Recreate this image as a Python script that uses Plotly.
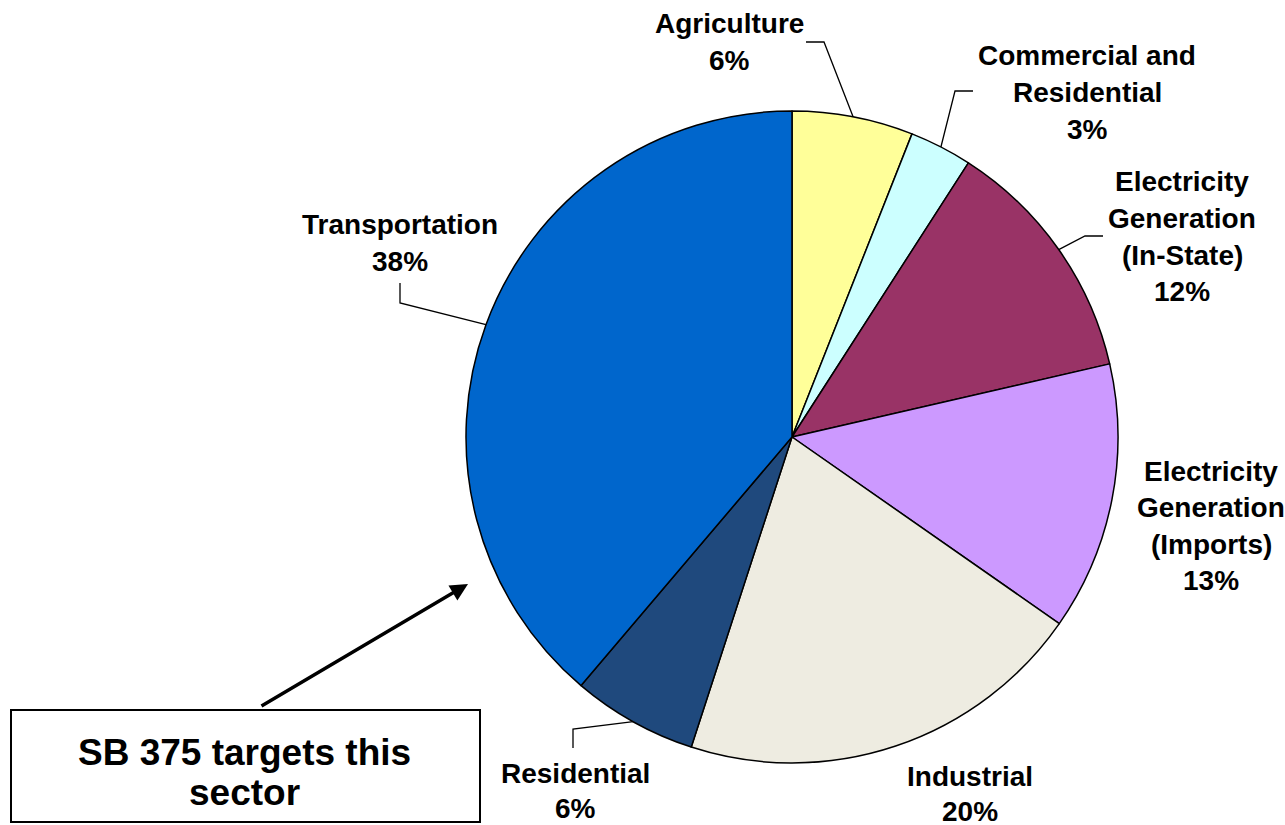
import math
import plotly.graph_objects as go

# ---------------- data ----------------
sectors = ["Agriculture", "Commercial and Residential",
           "Electricity Generation (In-State)", "Electricity Generation (Imports)",
           "Industrial", "Residential", "Transportation"]
label_lines = [["Agriculture"], ["Commercial and", "Residential"],
               ["Electricity", "Generation", "(In-State)"],
               ["Electricity", "Generation", "(Imports)"],
               ["Industrial"], ["Residential"], ["Transportation"]]
shares = [6.0, 3.1, 12.3, 13.3, 20.3, 6.2, 38.8]
pct_labels = ["6%", "3%", "12%", "13%", "20%", "6%", "38%"]
colors = ["#FFFF99", "#CCFFFF", "#993366", "#CC99FF", "#EEECE1", "#1F497D", "#0066CC"]
callout_lines = ["SB 375 targets this", "sector"]

# ---------------- layout geometry (pixels) ----------------
W, H = 1285, 825
CX, CY, R = 792, 437, 326
FONT = "Liberation Sans, Arial, sans-serif"

label_pos = [(729, 24), (1087, 56), (1182, 182), (1211, 471),
             (970, 776), (575, 773), (400, 225)]
line_gap = [36.5, 36.5, 36.5, 36.5, 35, 35, 36.5]
leader_pts = [((806, 42), (824, 42)), ((973, 91), (955, 91)),
              ((1103, 236), (1085, 236)), None, None,
              ((573, 748), (573, 729)), ((400, 283), (400, 303))]


def px(x):
    return x / W


def py(y):
    return 1 - y / H


fig = go.Figure(go.Pie(
    labels=sectors, values=shares, sort=False, direction="clockwise", rotation=0,
    marker=dict(colors=colors, line=dict(color="black", width=1.5)),
    textinfo="none", showlegend=False,
    domain=dict(x=[px(CX - R), px(CX + R)], y=[py(CY + R), py(CY - R)]),
))

annotations = []
shapes = []
total = sum(shares)
cum = 0.0
for i, v in enumerate(shares):
    mid = (cum + v / 2) / total * 2 * math.pi
    cum += v
    lines = label_lines[i] + [pct_labels[i]]
    x0, y0 = label_pos[i]
    for k, t in enumerate(lines):
        annotations.append(dict(
            x=px(x0), y=py(y0 + k * line_gap[i]), xref="paper", yref="paper",
            text="<b>%s</b>" % t, showarrow=False, xanchor="center", yanchor="middle",
            borderpad=0, font=dict(family=FONT, size=28, color="black")))
    if leader_pts[i] is not None:
        (sx, sy), (ex, ey) = leader_pts[i]
        tx = CX + R * math.sin(mid)
        ty = CY - R * math.cos(mid)
        shapes.append(dict(
            type="path", xref="paper", yref="paper",
            path="M %f %f L %f %f L %f %f" % (px(sx), py(sy), px(ex), py(ey), px(tx), py(ty)),
            line=dict(color="black", width=1.3)))

# callout box
shapes.append(dict(type="rect", xref="paper", yref="paper",
                   x0=px(11), x1=px(480), y0=py(822), y1=py(710),
                   line=dict(color="black", width=2), fillcolor="white"))
for k, t in enumerate(callout_lines):
    annotations.append(dict(
        x=px(245), y=py(752 + k * 40), xref="paper", yref="paper",
        text="<b>%s</b>" % t, showarrow=False, xanchor="center", yanchor="middle",
        borderpad=0, font=dict(family=FONT, size=37, color="black")))

# arrow
annotations.append(dict(
    x=px(468), y=py(584), xref="paper", yref="paper", text="",
    showarrow=True, ax=260 - 468, ay=707 - 584, arrowhead=2, arrowsize=1,
    arrowwidth=3.5, arrowcolor="black", standoff=0))

fig.update_layout(
    width=W, height=H, margin=dict(l=0, r=0, t=0, b=0),
    paper_bgcolor="white", plot_bgcolor="white",
    annotations=annotations, shapes=shapes,
)

fig.write_html("out.html", config={"displayModeBar": False},
               post_script="document.body.style.margin='0';document.body.style.overflow='hidden';")
